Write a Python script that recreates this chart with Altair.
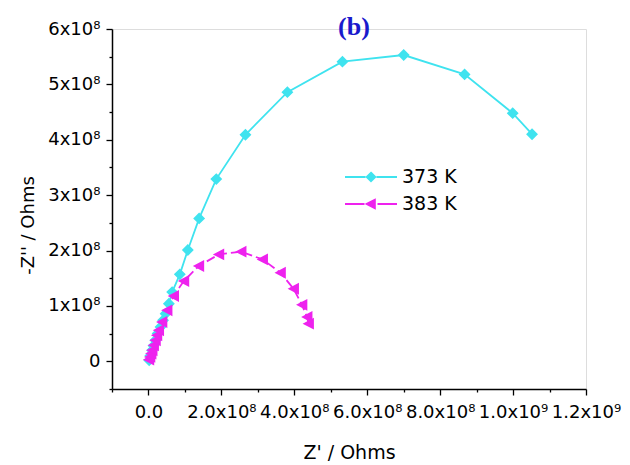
import altair as alt
import pandas as pd

# Nyquist data: real part Z' and imaginary part -Z'' (Ohms)
z_re_373 = [0.02e8, 0.05e8, 0.10e8, 0.14e8, 0.19e8, 0.25e8, 0.33e8, 0.40e8, 0.47e8, 0.56e8,
            0.65e8, 0.86e8, 1.08e8, 1.39e8, 1.86e8, 2.66e8, 3.81e8, 5.32e8, 7.00e8,
            8.67e8, 9.99e8, 10.52e8]
z_im_373 = [0.02e8, 0.10e8, 0.20e8, 0.28e8, 0.38e8, 0.50e8, 0.62e8, 0.74e8, 0.86e8, 1.04e8,
            1.25e8, 1.57e8, 2.01e8, 2.58e8, 3.29e8, 4.09e8, 4.86e8, 5.41e8, 5.53e8,
            5.18e8, 4.48e8, 4.10e8]

z_re_383 = [0.01e8, 0.04e8, 0.07e8, 0.10e8, 0.14e8, 0.19e8, 0.23e8, 0.28e8, 0.37e8, 0.51e8,
            0.69e8, 0.97e8, 1.38e8, 1.93e8, 2.54e8, 3.13e8, 3.62e8, 3.98e8, 4.21e8,
            4.35e8, 4.39e8]
z_im_383 = [0.03e8, 0.08e8, 0.14e8, 0.20e8, 0.29e8, 0.38e8, 0.47e8, 0.56e8, 0.71e8, 0.92e8,
            1.18e8, 1.45e8, 1.72e8, 1.93e8, 1.98e8, 1.84e8, 1.60e8, 1.31e8, 1.02e8,
            0.80e8, 0.68e8]

series = ["373 K", "383 K"]
colors = ["#3fe3ef", "#ee22ee"]
dash_383 = [9, 4]
# Marker paths: the open side segments have no area, so on the plot only the
# filled marker shows; in the legend (stroked) they become the line sample.
shapes = [
    "M-2.6,0L-0.55,0M0.55,0L2.6,0M0,-0.42L0.42,0L0,0.42L-0.42,0Z",
    "M-2.6,0L-0.65,0M0.65,0L2.6,0M-0.42,0L0.38,-0.42L0.38,0.42Z",
]

x_ticks = [v * 1e8 for v in range(-1, 13)]
y_ticks = [v * 0.5e8 for v in range(-1, 13)]

rows = []
for name, xs, ys in [(series[0], z_re_373, z_im_373), (series[1], z_re_383, z_im_383)]:
    for i, (xv, yv) in enumerate(zip(xs, ys)):
        rows.append({"series": name, "idx": i, "zre": xv, "zim": yv})
df = pd.DataFrame(rows)

FONT = "DejaVu Sans"

x_labels = ("datum.value % 2e8 !== 0 ? '' : datum.value === 0 ? '0.0' : "
            "datum.value < 1e9 ? format(datum.value / 1e8, '.1f') + 'x10⁸' : "
            "format(datum.value / 1e9, '.1f') + 'x10⁹'")
y_labels = ("datum.value % 1e8 !== 0 ? '' : datum.value === 0 ? '0' : "
            "format(datum.value / 1e8, 'd') + 'x10⁸'")

x_enc = alt.X("zre:Q", scale=alt.Scale(domain=[-1e8, 1.2e9], nice=False, zero=False),
              axis=alt.Axis(title="Z' / Ohms", values=x_ticks, labelExpr=x_labels, grid=False,
                            tickSize={"condition": {"test": "datum.value % 2e8 === 0", "value": 6}, "value": 3},
                            labelFont=FONT, labelFontSize=18, labelColor="black", labelPadding=8,
                            labelOverlap=False, labelFlush=False,
                            titleFont=FONT, titleFontSize=19, titleFontWeight="normal",
                            titleColor="black", titlePadding=22,
                            domainColor="black", domainWidth=1.5, tickColor="black", tickWidth=1.3))
y_enc = alt.Y("zim:Q", scale=alt.Scale(domain=[-0.5e8, 6e8], nice=False, zero=False),
              axis=alt.Axis(title="-Z'' / Ohms", values=y_ticks, labelExpr=y_labels, grid=False,
                            tickSize={"condition": {"test": "datum.value % 1e8 === 0", "value": 6}, "value": 3},
                            labelFont=FONT, labelFontSize=18, labelColor="black", labelPadding=6,
                            labelOverlap=False, labelFlush=False,
                            titleFont=FONT, titleFontSize=18, titleFontWeight="normal",
                            titleColor="black", titlePadding=10, titleY=196,
                            domainColor="black", domainWidth=1.5, tickColor="black", tickWidth=1.3))

color_scale = alt.Scale(domain=series, range=colors)

legend = alt.Legend(
    title=None, orient="none", legendX=248, legendY=137, padding=0,
    symbolSize=400, symbolStrokeWidth=2, symbolOpacity=1, labelOffset=20, rowPadding=6,
    labelFont=FONT, labelFontSize=19, labelColor="black",
)

base = alt.Chart(df)

line_373 = base.transform_filter(alt.datum.series == series[0]).mark_line(strokeWidth=1.8).encode(
    x=x_enc, y=y_enc,
    stroke=alt.Stroke("series:N", scale=color_scale, legend=legend),
    order="idx:Q",
)
line_383 = base.transform_filter(alt.datum.series == series[1]).mark_line(
    strokeWidth=1.8, strokeDash=dash_383
).encode(
    x=x_enc, y=y_enc,
    stroke=alt.Stroke("series:N", scale=color_scale, legend=legend),
    order="idx:Q",
)

points = base.mark_point(filled=True, size=800, opacity=1, strokeWidth=0).encode(
    x=x_enc, y=y_enc,
    fill=alt.Fill("series:N", scale=color_scale, legend=legend),
    stroke=alt.Stroke("series:N", scale=color_scale, legend=legend),
    shape=alt.Shape("series:N", scale=alt.Scale(domain=series, range=shapes), legend=legend),
)

chart = alt.layer(line_373, line_383, points).properties(
    width=474, height=360,
    autosize=alt.AutoSizeParams(type="none"),
    padding={"left": 112, "top": 29, "right": 44, "bottom": 76},
    title=alt.TitleParams(text="(b)", font="Liberation Serif", fontSize=26, fontWeight="bold",
                          color="#1a1acc", anchor="middle", offset=-20, dx=5),
).configure_view(stroke=None).configure(background="white")

chart.save("out.html", embed_options={"renderer": "svg", "actions": False})
